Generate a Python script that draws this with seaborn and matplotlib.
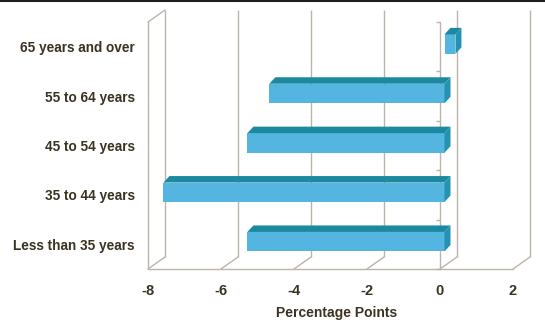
import matplotlib
matplotlib.use("Agg")
import matplotlib.pyplot as plt
from matplotlib.lines import Line2D
from matplotlib.patches import Polygon
import seaborn as sns

sns.set_theme(style="white")
plt.rcParams["font.family"] = ["Liberation Sans", "DejaVu Sans"]

# Data (percentage points)
age_groups = ["65 years and over", "55 to 64 years", "45 to 54 years",
              "35 to 44 years", "Less than 35 years"]
change = [0.3, -4.8, -5.4, -7.7, -5.4]
x_ticks = [-8, -6, -4, -2, 0, 2]

FRONT = "#54b6e0"
TOP = "#1b8aa0"
SIDE = "#2592b2"
GRID = "#bcb4a9"
TEXT = "#3b3322"

fig = plt.figure(figsize=(5.45, 3.23), dpi=100)
W, H = 545, 323
# front plane of the box (pixels): x 148..513, y 22..269
ax = fig.add_axes([148 / W, 1 - 269 / H, 365 / W, 247 / H])
ax.set_xlim(-8, 2)
ax.set_ylim(4.5, -0.5)

px_x = 365 / 10      # pixels per value unit
px_y = 247 / 5       # pixels per category
# depth of the box and of the bars, in data units
dep_x, dep_y = 17 / px_x, 12 / px_y
bar_off_x, bar_off_y = 4.5 / px_x, 2.6 / px_y
bar_dep_x, bar_dep_y = 6 / px_x, 6.5 / px_y

y_bot, y_top = 4.5, -0.5
lw = 1.0
# back-wall gridlines
ax.vlines([t + dep_x for t in x_ticks], y_bot - dep_y, y_top - dep_y,
          color=GRID, lw=lw, clip_on=False, zorder=1)
# floor: front edge + depth diagonals
ax.plot([x_ticks[0], x_ticks[-1]], [y_bot, y_bot], color=GRID, lw=lw,
        clip_on=False, zorder=1)
for t in x_ticks:
    ax.plot([t, t + dep_x], [y_bot, y_bot - dep_y], color=GRID, lw=lw,
            clip_on=False, zorder=1)
# left wall front edge and top edge
ax.plot([-8, -8], [y_bot, y_top], color=GRID, lw=lw, clip_on=False, zorder=1)
ax.plot([-8, -8 + dep_x], [y_top, y_top - dep_y], color=GRID, lw=lw,
        clip_on=False, zorder=1)
# value axis at zero with ticks between categories
bounds = [y_top + i for i in range(len(age_groups) + 1)]
ax.plot([0, 0], [y_bot, y_top], color=GRID, lw=lw, clip_on=False, zorder=1)
ax.plot([0] * len(bounds), bounds, ls="none", marker=0, ms=3.2,
        mew=lw, color=GRID, clip_on=False, zorder=1)

sns.barplot(x=change, y=age_groups, orient="h", color=FRONT, saturation=1,
            width=19.5 / px_y, ax=ax, zorder=3, linewidth=0)
ax.set_xlim(-8, 2)
ax.set_ylim(4.5, -0.5)

for p in ax.patches:
    p.set_x(p.get_x() + bar_off_x)
    p.set_y(p.get_y() - bar_off_y)
    x0, x1 = sorted([p.get_x(), p.get_x() + p.get_width()])
    yt = min(p.get_y(), p.get_y() + p.get_height())
    yb = max(p.get_y(), p.get_y() + p.get_height())
    top = Polygon([(x0, yt), (x1, yt), (x1 + bar_dep_x, yt - bar_dep_y),
                   (x0 + bar_dep_x, yt - bar_dep_y)], closed=True,
                  facecolor=TOP, edgecolor="none", zorder=3, clip_on=False)
    side = Polygon([(x1, yt), (x1, yb), (x1 + bar_dep_x, yb - bar_dep_y),
                    (x1 + bar_dep_x, yt - bar_dep_y)], closed=True,
                   facecolor=SIDE, edgecolor="none", zorder=3, clip_on=False)
    ax.add_patch(top)
    ax.add_patch(side)

sns.despine(ax=ax, left=True, bottom=True)
ax.set_xticks(x_ticks)
ax.set_xticklabels([str(t) for t in x_ticks])
ax.tick_params(axis="x", length=0, pad=11, labelsize=10.5, labelcolor=TEXT)
ax.tick_params(axis="y", length=0, pad=9.4, labelsize=9.8, labelcolor=TEXT)
for lab in ax.get_xticklabels() + ax.get_yticklabels():
    lab.set_fontweight("bold")
ax.set_ylabel("")
ax.set_xlabel("Percentage Points", fontsize=10, fontweight="bold", color=TEXT,
              va="center")
ax.xaxis.set_label_coords((337 - 148) / 365, (269 - 313) / 247)
ax.patch.set_alpha(0)

fig.add_artist(Line2D([0, 1], [1 - 1 / H, 1 - 1 / H], transform=fig.transFigure,
                      color="#1e1e1e", lw=1.5))

fig.savefig("out.png", dpi=100)
